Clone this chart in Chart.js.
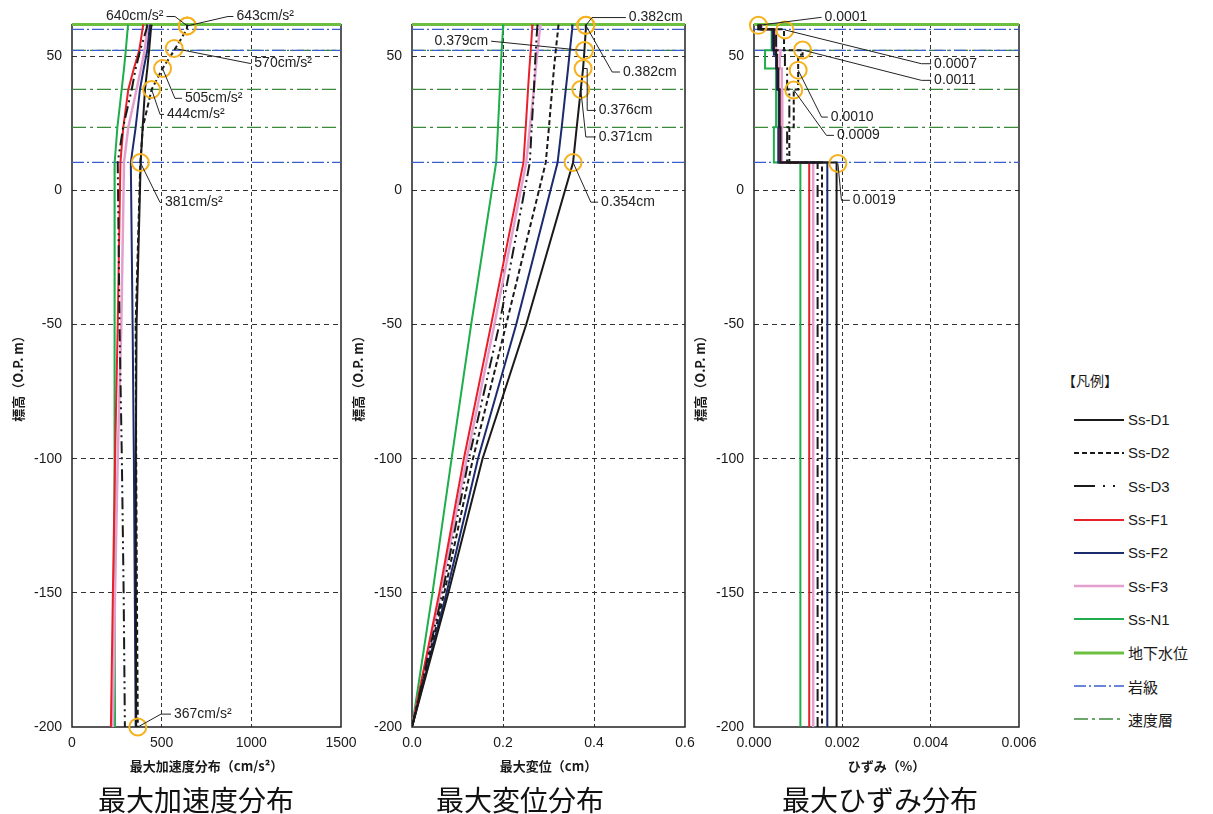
<!DOCTYPE html>
<html><head><meta charset="utf-8">
<script src="https://cdn.jsdelivr.net/npm/chart.js@4.4.0/dist/chart.umd.min.js"></script>
<style>
body{margin:0;background:#fff;width:1213px;height:814px;overflow:hidden;position:relative;font-family:'Liberation Sans','Noto Sans CJK JP',sans-serif;color:#1a1a1a;}
canvas{position:absolute;top:0;}
.big{position:absolute;top:784px;font-family:'Noto Sans CJK JP',sans-serif;font-size:28px;line-height:30px;color:#111;width:320px;text-align:center;}
#legend{position:absolute;left:1062px;top:368px;font-size:15px;}
#legend .hd{font-family:'Noto Sans CJK JP',sans-serif;font-size:14px;height:24px;line-height:24px;margin-bottom:11px;}
#legend .row{height:33.3px;display:flex;align-items:center;}
#legend svg{margin-left:12px;margin-right:4px;}
#legend span{font-family:'Liberation Sans','Noto Sans CJK JP',sans-serif;}
</style></head>
<body>
<canvas id="c1" width="362" height="780" style="left:0"></canvas>
<canvas id="c2" width="362" height="780" style="left:340px"></canvas>
<canvas id="c3" width="362" height="780" style="left:682px"></canvas>
<div class="big" style="left:36px">最大加速度分布</div>
<div class="big" style="left:360px">最大変位分布</div>
<div class="big" style="left:720px">最大ひずみ分布</div>
<div id="legend"></div>
<script>
// ---------- data ----------
const seriesNames = ['Ss-D1','Ss-D2','Ss-D3','Ss-F1','Ss-F2','Ss-F3','Ss-N1'];
const elevTicks = [50, 0, -50, -100, -150, -200];
const accTicks = [0, 500, 1000, 1500];
const dispTicks = [0, 0.2, 0.4, 0.6];
const strainTicks = [0, 0.002, 0.004, 0.006];
const elevRange = [-200, 62];

// profile elevations (O.P. m) for acceleration / displacement
const elevations = [61.8, 60.0, 52.2, 45.4, 37.6, 23.5, 10.4, -50, -100, -150, -200];

// 最大加速度 (cm/s2)
const accD1 = [444, 440, 430, 420, 407, 394, 383, 360, 356, 356, 358];
const accD2 = [643, 640, 570, 505, 444, 395, 381, 355, 358, 362, 367];
const accD3 = [420, 415, 380, 355, 333, 285, 255, 265, 278, 288, 295];
const accF1 = [398, 393, 375, 345, 314, 286, 270, 255, 240, 228, 217];
const accF2 = [435, 432, 420, 400, 379, 355, 328, 338, 345, 350, 355];
const accF3 = [425, 420, 405, 385, 360, 314, 290, 275, 255, 240, 228];
const accN1 = [313, 310, 300, 290, 277, 253, 238, 237, 237, 238, 240];

// 最大変位 (cm)
const dispD1 = [0.382, 0.382, 0.379, 0.376, 0.371, 0.362, 0.354, 0.251, 0.155, 0.080, 0];
const dispD2 = [0.322, 0.321, 0.316, 0.312, 0.308, 0.301, 0.294, 0.207, 0.134, 0.071, 0];
const dispD3 = [0.276, 0.275, 0.272, 0.270, 0.268, 0.263, 0.259, 0.192, 0.125, 0.067, 0];
const dispF1 = [0.265, 0.264, 0.261, 0.258, 0.255, 0.250, 0.245, 0.174, 0.114, 0.060, 0];
const dispF2 = [0.353, 0.352, 0.347, 0.343, 0.338, 0.329, 0.320, 0.229, 0.145, 0.076, 0];
const dispF3 = [0.283, 0.281, 0.276, 0.272, 0.268, 0.259, 0.251, 0.181, 0.120, 0.063, 0];
const dispN1 = [0.201, 0.200, 0.197, 0.195, 0.193, 0.189, 0.185, 0.130, 0.087, 0.045, 0];

// 最大ひずみ (%) : one value per layer, layer tops below
const strainLayerTops = [61.8, 60.0, 52.2, 50.5, 45.4, 37.6, 23.5, 10.4];
const strainBottom = -200;
const strainD1 = [0.00015, 0.00045, 0.00050, 0.00052, 0.00055, 0.00058, 0.00060, 0.00187];
const strainD2 = [0.00010, 0.00068, 0.00110, 0.00100, 0.00100, 0.00090, 0.00080, 0.00154];
const strainD3 = [0.00010, 0.00050, 0.00070, 0.00070, 0.00075, 0.00080, 0.00075, 0.00144];
const strainF1 = [0.00015, 0.00045, 0.00050, 0.00050, 0.00055, 0.00058, 0.00057, 0.00125];
const strainF2 = [0.00015, 0.00042, 0.00045, 0.00050, 0.00052, 0.00056, 0.00055, 0.00166];
const strainF3 = [0.00018, 0.00050, 0.00060, 0.00058, 0.00063, 0.00064, 0.00063, 0.00134];
const strainN1 = [0.00012, 0.00040, 0.00025, 0.00025, 0.00050, 0.00050, 0.00045, 0.00105];

// reference levels
const groundWaterLevels = [61.8];
const rockClassLevels = [60.0, 52.2, 10.4];
const velocityLayerLevels = [52.2, 37.6, 23.5];

// annotated peak values: value, elevation, label, leader path (value, elevation)
const accNotes = [
  {v:643, e:61.3, text:'640cm/s²', path:[[574,64.8],[527,64.8]], side:'left'},
  {v:643, e:61.3, text:'643cm/s²', path:[[870,64.8],[900,64.8]], side:'right'},
  {v:570, e:52.9, text:'570cm/s²', path:[[993,47.3],[1000,47.3]], side:'right'},
  {v:505, e:45.4, text:'505cm/s²', path:[[574,34.3],[613,34.3]], side:'right'},
  {v:444, e:37.6, text:'444cm/s²', path:[[491,28.3],[513,28.3]], side:'right'},
  {v:381, e:10.4, text:'381cm/s²', path:[[491,-4.5],[502,-4.5]], side:'right'},
  {v:367, e:-200, text:'367cm/s²', path:[[496,-195.2],[552,-195.2]], side:'right'}
];
const dispNotes = [
  {v:0.382, e:61.5, text:'0.382cm', path:[[0.3956,64.4],[0.470,64.4]], side:'right'},
  {v:0.379, e:52.1, text:'0.379cm', path:[[0.174,55.6]], side:'left'},
  {v:0.382, e:61.5, text:'0.382cm', path:[[0.440,44.1],[0.457,44.1]], side:'right'},
  {v:0.376, e:45.4, text:'0.376cm', path:[[0.385,45.4],[0.385,29.8],[0.404,29.8]], side:'right'},
  {v:0.371, e:37.6, text:'0.371cm', path:[[0.382,19.9],[0.404,19.9]], side:'right'},
  {v:0.354, e:10.4, text:'0.354cm', path:[[0.393,-4.4],[0.409,-4.4]], side:'right'}
];
const strainNotes = [
  {v:0.0001, e:61.5, text:'0.0001', path:[[0.00153,64.5]], side:'right'},
  {v:0.0007, e:59.8, text:'0.0007', path:[[0.00379,47.2],[0.00401,47.2]], side:'right'},
  {v:0.0011, e:52.3, text:'0.0011', path:[[0.00379,41.0],[0.00401,41.0]], side:'right'},
  {v:0.0010, e:44.8, text:'0.0010', path:[[0.00153,27.3],[0.00167,27.3]], side:'right'},
  {v:0.0009, e:37.4, text:'0.0009', path:[[0.00164,20.5],[0.00181,20.5]], side:'right'},
  {v:0.0019, e:10.0, text:'0.0019', path:[[0.00198,-3.7],[0.00217,-3.7]], side:'right'}
];

// ---------- styles ----------
const STYLE = {
  'Ss-D1': {color:'#1a1a1a', width:2, dash:[]},
  'Ss-D2': {color:'#1a1a1a', width:2, dash:[5,3]},
  'Ss-D3': {color:'#1a1a1a', width:2, dash:[12,4,2,4,2,4]},
  'Ss-F1': {color:'#e8202a', width:2, dash:[]},
  'Ss-F2': {color:'#1c2a6e', width:2, dash:[]},
  'Ss-F3': {color:'#e3a0cf', width:2.5, dash:[]},
  'Ss-N1': {color:'#1fae4b', width:2, dash:[]},
  '地下水位': {color:'#6cbf3f', width:3, dash:[]},
  '岩級': {color:'#3a5fcd', width:1.2, dash:[12,3,2,3]},
  '速度層': {color:'#3b8a3a', width:1.2, dash:[14,4,3,4]}
};
const drawOrder = ['Ss-D1','Ss-D2','Ss-D3','Ss-F2','Ss-F1','Ss-F3','Ss-N1'];

function lineDs(name, pts, extra) {
  const s = STYLE[name];
  return Object.assign({label:name, data:pts, showLine:true, pointRadius:0, fill:false,
    borderColor:s.color, borderWidth:s.width, borderDash:s.dash, tension:0}, extra||{});
}
function refDs(xmin, xmax) {
  const out = [];
  groundWaterLevels.forEach(l => out.push(lineDs('地下水位', [{x:xmin,y:l},{x:xmax,y:l}], {clip:4})));
  rockClassLevels.forEach(l => out.push(lineDs('岩級', [{x:xmin,y:l},{x:xmax,y:l}])));
  velocityLayerLevels.forEach(l => out.push(lineDs('速度層', [{x:xmin,y:l},{x:xmax,y:l}])));
  return out;
}
function circleDs(notes) {
  return {label:'peak', data:notes.map(n=>({x:n.v,y:n.e})), showLine:false, pointRadius:8.5,
    pointBorderWidth:2, pointBorderColor:'#f5b21e', pointBackgroundColor:'rgba(0,0,0,0)', clip:false};
}

const framePlugin = {
  id:'frame',
  beforeDatasetsDraw(chart) {
    const {ctx, chartArea:a} = chart;
    ctx.save(); ctx.strokeStyle = '#222'; ctx.lineWidth = 1.5;
    ctx.beginPath(); ctx.moveTo(a.left, a.top); ctx.lineTo(a.left, a.bottom); ctx.lineTo(a.right, a.bottom); ctx.lineTo(a.right, a.top); ctx.stroke();
    ctx.restore();
  }
};
const notePlugin = {
  id:'notes',
  afterDatasetsDraw(chart, args, opts) {
    const {ctx, scales:{x, y}} = chart;
    ctx.save();
    ctx.strokeStyle = '#222'; ctx.lineWidth = 1; ctx.fillStyle = '#222';
    ctx.font = '14px "Liberation Sans", sans-serif'; ctx.textBaseline = 'middle';
    (opts.items||[]).forEach(n => {
      const pts = [[n.v,n.e]].concat(n.path).map(p => [x.getPixelForValue(p[0]), y.getPixelForValue(p[1])]);
      ctx.beginPath(); ctx.moveTo(pts[0][0], pts[0][1]);
      for (let i=1;i<pts.length;i++) ctx.lineTo(pts[i][0], pts[i][1]);
      ctx.stroke();
      const last = pts[pts.length-1];
      ctx.textAlign = n.side === 'left' ? 'right' : 'left';
      ctx.fillText(n.text, last[0] + (n.side === 'left' ? -3 : 3), last[1]);
    });
    ctx.restore();
  }
};

function makeChart(id, datasets, xTicks, fmt, xTitle, padRight, notes) {
  const xmin = xTicks[0], xmax = xTicks[xTicks.length-1];
  const hideEnds = (vals) => (c) => (c.tick && (c.tick.value === vals[0] || c.tick.value === vals[vals.length-1])) ? 'rgba(0,0,0,0)' : '#333';
  return new Chart(document.getElementById(id), {
    type:'scatter',
    data:{datasets: [circleDs(notes)].concat(datasets, refDs(xmin, xmax))},
    options:{
      responsive:false, animation:false, events:[],
      layout:{padding:{top:24, right:padRight, left:0, bottom:0}},
      plugins:{legend:{display:false}, tooltip:{enabled:false}, notes:{items:notes}},
      scales:{
        x:{type:'linear', min:xmin, max:xmax,
          afterBuildTicks:s => { s.ticks = xTicks.map(v=>({value:v})); },
          afterFit:s => { s.height = 53; s.paddingLeft = 0; s.paddingRight = 0; },
          ticks:{callback:v => fmt(v), padding:8, color:'#1a1a1a', font:{size:14, family:'"Liberation Sans", sans-serif'}, maxRotation:0},
          grid:{color:hideEnds(xTicks), lineWidth:1, drawTicks:false},
          border:{display:false, dash:[4,3]},
          title:{display:true, text:xTitle, color:'#1a1a1a', padding:{top:0,bottom:6}, font:{size:13, weight:'bold', family:'"Noto Sans CJK JP", sans-serif'}}
        },
        y:{type:'linear', min:elevRange[0], max:elevRange[1],
          afterBuildTicks:s => { s.ticks = elevTicks.map(v=>({value:v})); },
          afterFit:s => { s.width = 72; s.paddingTop = 0; s.paddingBottom = 0; },
          ticks:{padding:10, color:'#1a1a1a', font:{size:14, family:'"Liberation Sans", sans-serif'}},
          grid:{color:c => (c.tick && c.tick.value === elevRange[0]) ? 'rgba(0,0,0,0)' : '#333', lineWidth:1, drawTicks:false},
          border:{display:false, dash:[5,4]},
          title:{display:true, text:'標高（O.P. m）', color:'#1a1a1a', padding:{top:10,bottom:0}, font:{size:13, weight:'bold', family:'"Noto Sans CJK JP", sans-serif'}}
        }
      }
    },
    plugins:[framePlugin, notePlugin]
  });
}

const accSeries = {'Ss-D1':accD1,'Ss-D2':accD2,'Ss-D3':accD3,'Ss-F1':accF1,'Ss-F2':accF2,'Ss-F3':accF3,'Ss-N1':accN1};
const dispSeries = {'Ss-D1':dispD1,'Ss-D2':dispD2,'Ss-D3':dispD3,'Ss-F1':dispF1,'Ss-F2':dispF2,'Ss-F3':dispF3,'Ss-N1':dispN1};
const strainSeries = {'Ss-D1':strainD1,'Ss-D2':strainD2,'Ss-D3':strainD3,'Ss-F1':strainF1,'Ss-F2':strainF2,'Ss-F3':strainF3,'Ss-N1':strainN1};

const profileDs = (series) => drawOrder.map(n => lineDs(n, series[n].map((v,i)=>({x:v, y:elevations[i]}))));
const stepDs = (series) => drawOrder.map(n => {
  const vals = series[n];
  const pts = vals.map((v,i)=>({x:v, y:strainLayerTops[i]}));
  pts.push({x:vals[vals.length-1], y:strainBottom});
  return lineDs(n, pts, {stepped:'after'});
});

makeChart('c1', profileDs(accSeries), accTicks, v => String(v), '最大加速度分布（cm/s²）', 21, accNotes);
makeChart('c2', profileDs(dispSeries), dispTicks, v => v.toFixed(1), '最大変位（cm）', 17, dispNotes);
makeChart('c3', stepDs(strainSeries), strainTicks, v => v.toFixed(3), 'ひずみ（%）', 25, strainNotes);

// ---------- legend ----------
const legendItems = seriesNames.concat(['地下水位','岩級','速度層']);
const lg = document.getElementById('legend');
let html = '<div class="hd">【凡例】</div>';
legendItems.forEach(n => {
  const s = STYLE[n];
  html += '<div class="row"><svg width="50" height="6"><line x1="0" y1="3" x2="50" y2="3" stroke="' + s.color +
    '" stroke-width="' + Math.max(s.width, 1.3) + '" stroke-dasharray="' + (n==='Ss-D3' ? '21,8,2,8,2,10' : s.dash.join(',')) + '"/></svg><span>' + n + '</span></div>';
});
lg.innerHTML = html;
</script>
</body></html>
